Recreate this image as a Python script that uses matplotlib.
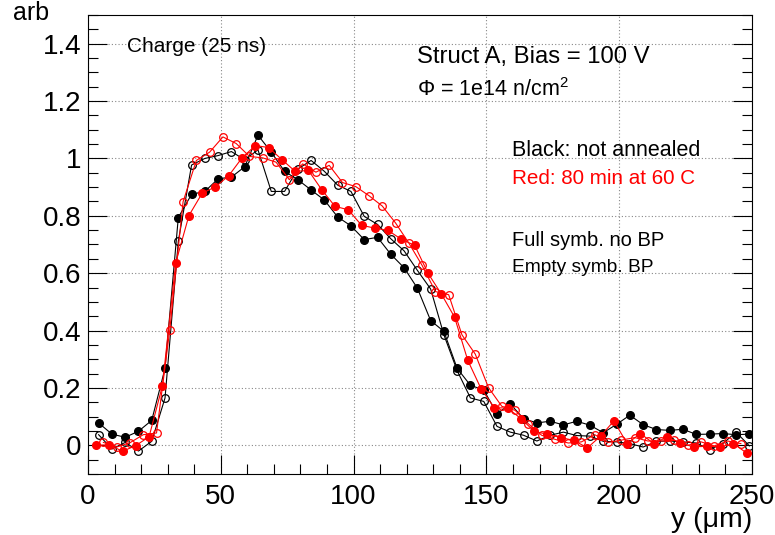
import numpy as np
import matplotlib
matplotlib.use("Agg")
import matplotlib.pyplot as plt
from matplotlib.ticker import MultipleLocator, FuncFormatter

plt.rcParams['font.family'] = ['Liberation Sans', 'DejaVu Sans']
plt.rcParams['mathtext.fontset'] = 'custom'
plt.rcParams['mathtext.rm'] = 'Liberation Sans'
plt.rcParams['mathtext.it'] = 'Liberation Sans:italic'

# ---- data ----
x_black = [4 + 5 * k for k in range(50)]
bf_y = [0.078, 0.039, 0.028, 0.049, 0.087, 0.268, 0.794, 0.875, 0.885, 0.929,
        0.935, 0.971, 1.081, 1.022, 0.955, 0.926, 0.890, 0.855, 0.796, 0.765,
        0.717, 0.725, 0.666, 0.619, 0.548, 0.435, 0.397, 0.268, 0.209, 0.193,
        0.110, 0.144, 0.093, 0.078, 0.084, 0.071, 0.084, 0.070, 0.044, 0.073,
        0.105, 0.072, 0.055, 0.052, 0.056, 0.038, 0.039, 0.041, 0.037, 0.039]
be_y = [0.037, -0.013, 0.010, -0.020, 0.014, 0.165, 0.711, 0.977, 1.000, 1.010,
        1.024, 0.995, 1.030, 0.885, 0.885, 0.963, 0.993, 0.955, 0.907, 0.885,
        0.798, 0.770, 0.720, 0.678, 0.610, 0.545, 0.385, 0.260, 0.165, 0.153,
        0.066, 0.046, 0.035, 0.015, 0.035, 0.046, 0.034, 0.032, 0.014, 0.012,
        0.006, -0.006, 0.014, 0.015, 0.012, 0.008, -0.015, 0.006, 0.046, -0.002]
x_red_full = [3 + 5 * k for k in range(50)]
rf_y = [0.000, 0.002, -0.021, -0.001, 0.030, 0.207, 0.635, 0.801, 0.879, 0.901,
        0.940, 1.002, 1.045, 1.038, 0.996, 0.955, 0.958, 0.891, 0.833, 0.821,
        0.767, 0.757, 0.749, 0.718, 0.697, 0.600, 0.528, 0.447, 0.296, 0.197,
        0.131, 0.130, 0.093, 0.049, 0.038, 0.027, 0.017, -0.009, 0.032, 0.085,
        0.006, 0.041, 0.006, 0.029, 0.009, -0.006, -0.003, -0.006, 0.006, -0.027]
x_red_empty = [5.8 + 5 * k for k in range(49)]
re_y = [0.010, -0.006, 0.009, 0.037, 0.043, 0.403, 0.849, 0.993, 1.022, 1.075,
        1.052, 1.007, 1.002, 0.987, 0.926, 0.981, 0.952, 0.976, 0.916, 0.902,
        0.870, 0.834, 0.775, 0.705, 0.627, 0.536, 0.525, 0.385, 0.318, 0.201,
        0.136, 0.122, 0.075, 0.035, 0.021, 0.008, 0.012, 0.037, 0.010, 0.018,
        0.027, 0.015, 0.015, 0.017, 0.000, 0.012, -0.002, 0.015, 0.006]

W, H = 775, 535
fig = plt.figure(figsize=(W / 100, H / 100), dpi=100)
ax = fig.add_axes([88 / W, 1 - 474 / H, (752 - 88) / W, (474 - 15) / H])

lw = 0.8
ms = 5.5
ax.plot(x_black, bf_y, '-', color='black', lw=lw, marker='o', ms=ms,
        mfc='black', mec='black', zorder=3)
ax.plot(x_black, be_y, '-', color='black', lw=lw, marker='o', ms=ms,
        mfc='none', mec='black', mew=0.9, zorder=3)
ax.plot(x_red_full, rf_y, '-', color='red', lw=lw, marker='o', ms=ms,
        mfc='red', mec='red', zorder=3)
ax.plot(x_red_empty, re_y, '-', color='red', lw=lw, marker='o', ms=ms,
        mfc='none', mec='red', mew=0.9, zorder=3)

ax.set_xlim(0, 250)
ax.set_ylim(-0.1, 1.5)
ax.xaxis.set_major_locator(MultipleLocator(50))
ax.xaxis.set_minor_locator(MultipleLocator(10))
ax.yaxis.set_major_locator(MultipleLocator(0.2))
ax.yaxis.set_minor_locator(MultipleLocator(0.05))
fmt = FuncFormatter(lambda v, p: ('%g' % round(v, 3)))
ax.xaxis.set_major_formatter(fmt)
ax.yaxis.set_major_formatter(fmt)
ax.set_yticks([0, 0.2, 0.4, 0.6, 0.8, 1.0, 1.2, 1.4])
ax.tick_params(which='both', direction='in', top=False, right=True,
               labelsize=20, width=0.8, color='black')
ax.tick_params(which='major', length=14, pad=5)
ax.tick_params(which='minor', length=7)
ax.tick_params(axis='x', which='major', pad=7)
ax.grid(True, which='major', linestyle=(0, (1, 2)), color='#888888', lw=0.8)
for s in ax.spines.values():
    s.set_linewidth(0.8)

def ftext(px, py, s, **kw):
    fig.text(px / W, 1 - py / H, s, **kw)

ftext(752, 520, 'y (μm)', ha='right', va='center', fontsize=20.5)
ftext(31, 13, 'arb', ha='center', va='center', fontsize=18)
ftext(127, 47, 'Charge (25 ns)', ha='left', va='center', fontsize=15)
ftext(417, 57, 'Struct A, Bias = 100 V', ha='left', va='center', fontsize=17.2)
ftext(417, 90, r'$\Phi$ = 1e14 n/cm$^2$', ha='left', va='center', fontsize=15.5)
ftext(512, 150, 'Black: not annealed', ha='left', va='center', fontsize=15.5)
ftext(512, 178, 'Red: 80 min at 60 C', ha='left', va='center', fontsize=14.9,
      color='red')
ftext(512, 240, 'Full symb. no BP', ha='left', va='center', fontsize=14.5)
ftext(512, 268, 'Empty symb. BP', ha='left', va='center', fontsize=13.8)

fig.savefig('out.png', dpi=100)
